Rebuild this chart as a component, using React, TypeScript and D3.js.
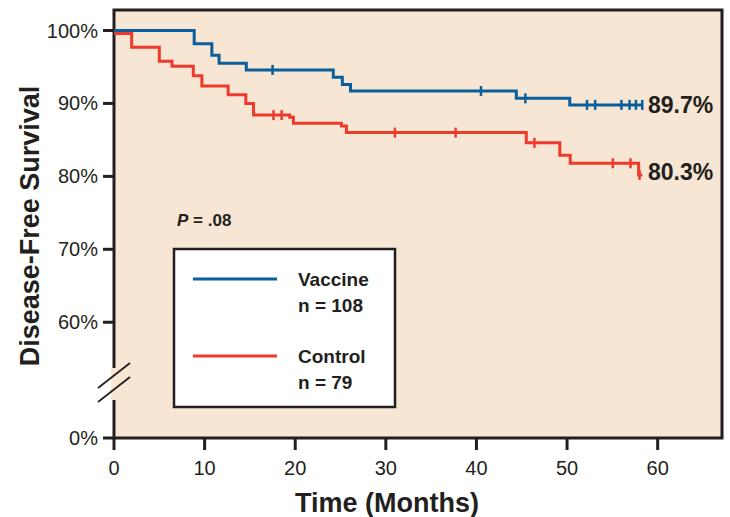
import React, { useEffect, useRef } from "react";
import * as d3 from "d3";

// Kaplan-Meier steps
const vaccineTimes = [0, 8.85, 10.8, 11.6, 14.6, 24.2, 25.2, 26.1, 44.4, 50.3];
const vaccineSurv = [100, 98.2, 96.6, 95.5, 94.6, 93.6, 92.6, 91.7, 90.7, 89.8];
const vaccineEnd = 58.3;
const vaccineCensor = [17.5, 40.5, 45.4, 52.2, 53.1, 56.0, 56.9, 57.6, 58.3];

const controlTimes = [0, 1.95, 5.0, 6.4, 8.75, 9.7, 12.6, 14.55, 15.4, 19.4, 19.8, 25.1, 25.65, 45.5, 49.2, 50.35, 57.9];
const controlSurv = [99.6, 97.7, 95.8, 95.1, 93.8, 92.4, 91.2, 90.0, 88.4, 88.1, 87.3, 86.9, 86.0, 84.6, 82.9, 81.8, 80.2];
const controlEnd = 58.3;
const controlCensor = [17.6, 18.5, 31.0, 37.7, 46.4, 55.05, 57.0, 58.0];

const xTicks = [0, 10, 20, 30, 40, 50, 60];
const yTicks = [0, 60, 70, 80, 90, 100];
const endLabels = ["89.7%", "80.3%"];
const legendNames = ["Vaccine", "Control"];
const legendCounts = ["n = 108", "n = 79"];

const BLUE = "#0b5e9c";
const RED = "#ee3a2c";
const INK = "#231f20";
const FONT = "'Liberation Sans Narrow', 'Liberation Sans', Arial, sans-serif";

function stepAt(times: number[], surv: number[], t: number) {
  let v = surv[0];
  times.forEach((tt, i) => {
    if (tt <= t) v = surv[i];
  });
  return v;
}

export default function App() {
  const ref = useRef<SVGSVGElement>(null);

  useEffect(() => {
    const width = 730;
    const height = 517;
    const left = 114, right = 722, top = 10, bottom = 438;

    const svg = d3.select(ref.current);
    svg.selectAll("*").remove();

    const x = d3.scaleLinear().domain([0, 67.1]).range([left, right]);
    const y = d3.scaleLinear().domain([0, 54, 100]).range([bottom, 366, 30.5]);

    // panel
    svg.append("rect")
      .attr("x", left).attr("y", top)
      .attr("width", right - left).attr("height", bottom - top)
      .attr("fill", "#f6e6d3")
      .attr("stroke", INK).attr("stroke-width", 3);

    // y axis ticks
    yTicks.forEach((v) => {
      svg.append("line")
        .attr("x1", left - 11).attr("x2", left)
        .attr("y1", y(v)).attr("y2", y(v))
        .attr("stroke", INK).attr("stroke-width", 3);
      svg.append("text")
        .attr("x", left - 16).attr("y", y(v) + 7)
        .attr("text-anchor", "end")
        .attr("font-family", FONT).attr("font-size", 20)
        .attr("fill", INK)
        .text(v + "%");
    });

    // x axis ticks
    xTicks.forEach((t) => {
      svg.append("line")
        .attr("x1", x(t)).attr("x2", x(t))
        .attr("y1", bottom).attr("y2", bottom + 12)
        .attr("stroke", INK).attr("stroke-width", 3);
      svg.append("text")
        .attr("x", x(t)).attr("y", bottom + 37)
        .attr("text-anchor", "middle")
        .attr("font-family", FONT).attr("font-size", 20)
        .attr("fill", INK)
        .text(t);
    });

    // axis break
    svg.append("rect")
      .attr("x", left - 3).attr("y", 368)
      .attr("width", 7).attr("height", 32)
      .attr("fill", "#f6e6d3");
    [[388, 363], [402, 377]].forEach(([y1, y2]) => {
      svg.append("line")
        .attr("x1", 98).attr("y1", y1).attr("x2", 130).attr("y2", y2)
        .attr("stroke", INK).attr("stroke-width", 1.8);
    });

    // curves
    const line = d3.line<[number, number]>()
      .x((d) => x(d[0]))
      .y((d) => y(d[1]))
      .curve(d3.curveStepAfter);

    const series = [
      { times: vaccineTimes, surv: vaccineSurv, end: vaccineEnd, censor: vaccineCensor, color: BLUE },
      { times: controlTimes, surv: controlSurv, end: controlEnd, censor: controlCensor, color: RED },
    ];

    series.forEach((s) => {
      const pts: [number, number][] = s.times.map((t, i) => [t, s.surv[i]]);
      pts.push([s.end, s.surv[s.surv.length - 1]]);
      svg.append("path")
        .attr("d", line(pts))
        .attr("fill", "none")
        .attr("stroke", s.color)
        .attr("stroke-width", 3);
      s.censor.forEach((t) => {
        const v = stepAt(s.times, s.surv, t);
        svg.append("line")
          .attr("x1", x(t)).attr("x2", x(t))
          .attr("y1", y(v) - 5).attr("y2", y(v) + 5)
          .attr("stroke", s.color).attr("stroke-width", 2.5);
      });
    });

    // end labels
    [vaccineSurv[vaccineSurv.length - 1], controlSurv[controlSurv.length - 1]].forEach((v, i) => {
      svg.append("text")
        .attr("x", 648).attr("y", y(v) + 8 - (i === 1 ? 3 : 0))
        .attr("font-family", FONT).attr("font-size", 23).attr("font-weight", "bold")
        .attr("fill", INK)
        .text(endLabels[i]);
    });

    // P value
    const p = svg.append("text")
      .attr("x", 177).attr("y", 226)
      .attr("font-family", FONT).attr("font-size", 17).attr("font-weight", "bold")
      .attr("fill", INK);
    p.append("tspan").attr("font-style", "italic").text("P");
    p.append("tspan").text(" = .08");

    // legend
    svg.append("rect")
      .attr("x", 174).attr("y", 249)
      .attr("width", 221).attr("height", 158)
      .attr("fill", "#ffffff")
      .attr("stroke", INK).attr("stroke-width", 2.5);
    [BLUE, RED].forEach((c, i) => {
      const ly = 279 + i * 77;
      svg.append("line")
        .attr("x1", 193).attr("x2", 277)
        .attr("y1", ly).attr("y2", ly)
        .attr("stroke", c).attr("stroke-width", 3);
      svg.append("text")
        .attr("x", 298).attr("y", ly + 7)
        .attr("font-family", FONT).attr("font-size", 19).attr("font-weight", "bold")
        .attr("fill", INK)
        .text(legendNames[i]);
      svg.append("text")
        .attr("x", 298).attr("y", ly + 33)
        .attr("font-family", FONT).attr("font-size", 19).attr("font-weight", "bold")
        .attr("fill", INK)
        .text(legendCounts[i]);
    });

    // axis titles
    svg.append("text")
      .attr("x", 387).attr("y", 512)
      .attr("text-anchor", "middle")
      .attr("font-family", FONT).attr("font-size", 27).attr("font-weight", "bold")
      .attr("fill", INK)
      .text("Time (Months)");

    svg.append("text")
      .attr("transform", "translate(39, 226) rotate(-90)")
      .attr("text-anchor", "middle")
      .attr("font-family", FONT).attr("font-size", 27).attr("font-weight", "bold")
      .attr("fill", INK)
      .text("Disease-Free Survival");

    svg.attr("width", width).attr("height", height);
  }, []);

  return (
    <svg
      ref={ref}
      width={730}
      height={517}
      style={{ position: "absolute", left: 0, top: 0, background: "#ffffff" }}
    />
  );
}
